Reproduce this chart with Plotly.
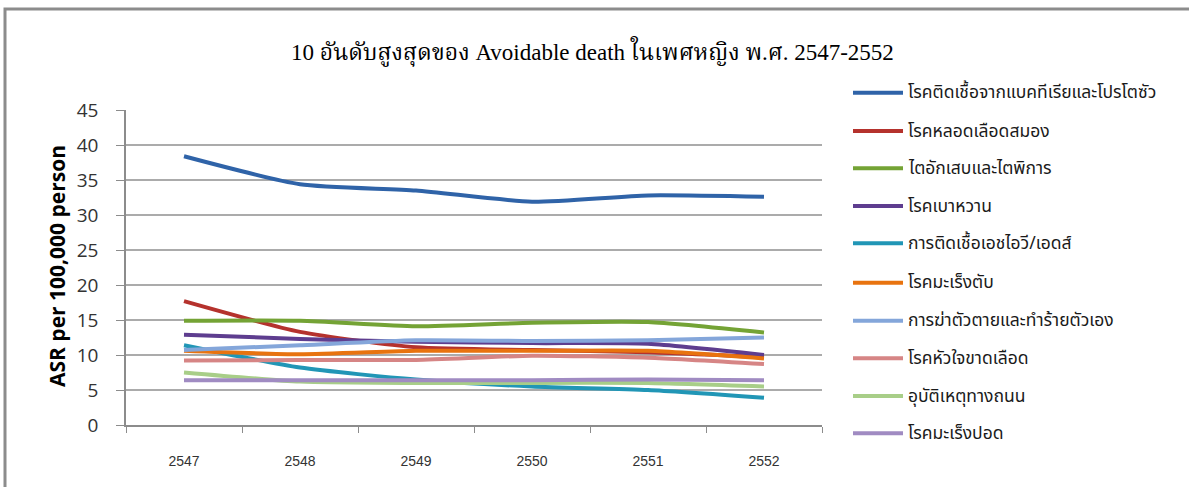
import plotly.graph_objects as go

# Years (Buddhist Era)
years = ["2547", "2548", "2549", "2550", "2551", "2552"]

# Age-standardised death rates per 100,000 females
bacterial_protozoal = [38.4, 34.4, 33.5, 31.9, 32.8, 32.6]
stroke = [17.7, 13.3, 11.1, 10.7, 10.4, 9.7]
nephritis = [14.9, 14.9, 14.1, 14.6, 14.7, 13.2]
diabetes = [12.9, 12.3, 11.9, 11.7, 11.6, 10.0]
hiv_aids = [11.4, 8.2, 6.5, 5.5, 5.0, 3.9]
liver_cancer = [10.6, 10.1, 10.6, 10.6, 10.6, 9.5]
suicide = [10.7, 11.4, 12.1, 12.0, 12.1, 12.5]
ischemic_heart = [9.2, 9.3, 9.3, 9.9, 9.6, 8.7]
road_injury = [7.5, 6.2, 6.0, 6.0, 6.0, 5.5]
lung_cancer = [6.4, 6.4, 6.4, 6.4, 6.5, 6.4]

series_names = [
    "โรคติดเชื้อจากแบคทีเรียและโปรโตซัว",
    "โรคหลอดเลือดสมอง",
    "ไตอักเสบและไตพิการ",
    "โรคเบาหวาน",
    "การติดเชื้อเอชไอวี/เอดส์",
    "โรคมะเร็งตับ",
    "การฆ่าตัวตายและทำร้ายตัวเอง",
    "โรคหัวใจขาดเลือด",
    "อุบัติเหตุทางถนน",
    "โรคมะเร็งปอด",
]
series_values = [
    bacterial_protozoal, stroke, nephritis, diabetes, hiv_aids,
    liver_cancer, suicide, ischemic_heart, road_injury, lung_cancer,
]
series_colors = [
    "#2F63A8", "#B5322D", "#74A335", "#5E3D8F", "#2196B6",
    "#E8730F", "#84A6DA", "#D68585", "#A8CE88", "#A08BC2",
]

title_text = "10 อันดับสูงสุดของ Avoidable death ในเพศหญิง พ.ศ. 2547-2552"
y_title = "ASR per 100,000 person"

# Plot-area geometry in pixels
W, H = 1189, 487
L, R, T, B = 126, 822, 110, 425


def px2x(px):
    return (px - L) / (R - L)


def py2y(py):
    return (B - py) / (B - T)


fig = go.Figure()
for name, vals, col in zip(series_names, series_values, series_colors):
    fig.add_trace(go.Scatter(
        x=years, y=vals, name=name, mode="lines",
        line=dict(color=col, width=4, shape="spline", smoothing=0.6),
        showlegend=False,
    ))

shapes = []
annotations = []

# Outer frame of the chart
shapes.append(dict(
    type="rect", xref="paper", yref="paper",
    x0=px2x(5), x1=px2x(1200), y0=py2y(500), y1=py2y(9),
    line=dict(color="#8C8C8C", width=3), fillcolor="rgba(0,0,0,0)",
    layer="below",
))

# Legend drawn at the right
leg_y = [92.7, 131, 168.3, 206, 243.3, 282.7, 320.7, 358.3, 396, 433.3]
for name, col, ly in zip(series_names, series_colors, leg_y):
    shapes.append(dict(
        type="line", xref="paper", yref="paper",
        x0=px2x(853), x1=px2x(903), y0=py2y(ly), y1=py2y(ly),
        line=dict(color=col, width=4),
    ))
    annotations.append(dict(
        xref="paper", yref="paper", x=px2x(906), y=py2y(ly),
        xanchor="left", yanchor="middle", text=name, showarrow=False,
        font=dict(family="Tahoma, Noto Sans Thai, Noto Sans, sans-serif",
                  size=17.5, color="#1a1a1a"),
    ))

annotations.append(dict(
    xref="paper", yref="paper", x=px2x(592), y=py2y(52),
    xanchor="center", yanchor="middle", text=title_text, showarrow=False,
    font=dict(family="Liberation Serif, Noto Serif Thai, serif", size=23,
              color="#000000"),
))
annotations.append(dict(
    xref="paper", yref="paper", x=px2x(57), y=py2y(266),
    xanchor="center", yanchor="middle", text="<b>" + y_title + "</b>",
    textangle=-90, showarrow=False,
    font=dict(family="Open Sans, sans-serif", size=21, color="#000000"),
))

fig.update_layout(
    width=W, height=H,
    margin=dict(l=L, r=W - R, t=T, b=H - B, autoexpand=False),
    paper_bgcolor="white", plot_bgcolor="white",
    shapes=shapes, annotations=annotations,
    showlegend=False,
)
fig.update_xaxes(
    type="category", range=[-0.5, 5.5], showgrid=False,
    showline=True, linecolor="#8C8C8C", linewidth=1.5,
    ticks="outside", tickson="boundaries", ticklen=6, tickcolor="#8C8C8C",
    tickfont=dict(family="Liberation Sans Narrow, Liberation Sans, Arial",
                  size=14, color="#333333"),
    ticklabelstandoff=22,
)
fig.update_yaxes(
    range=[0, 45], dtick=5, tick0=0,
    showgrid=True, gridcolor="#ABABAB", gridwidth=1.5,
    showline=True, linecolor="#8C8C8C", linewidth=1.5,
    ticks="outside", ticklen=8, tickcolor="#8C8C8C",
    tickfont=dict(family="Open Sans, sans-serif", size=19, color="#333333"),
    ticklabelstandoff=14, zeroline=False,
)

fig.write_html("out.html")
